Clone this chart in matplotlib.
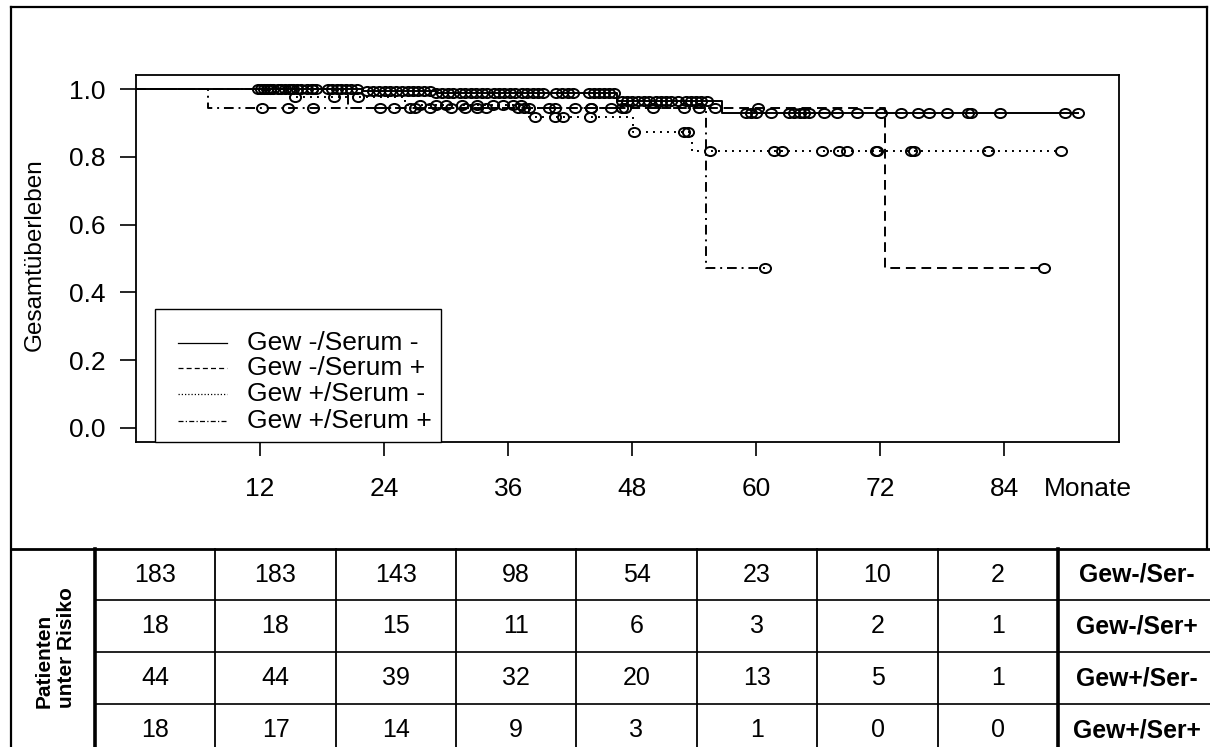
import numpy as np
import matplotlib
matplotlib.use("Agg")
import matplotlib.pyplot as plt
from matplotlib.path import Path
from matplotlib.patches import Rectangle

plt.rcParams['font.family'] = ['Liberation Sans', 'DejaVu Sans']

# ---- Kaplan-Meier curves: event times (months) and survival after each step ----
gm_sm_t = [0, 22.0, 29.0, 46.5, 56.7]
gm_sm_s = [1.0, 0.994, 0.988, 0.965, 0.929]
gm_sm_end = 91.1

gm_sp_t = [0, 20.5, 72.5]
gm_sp_s = [1.0, 0.944, 0.472]
gm_sp_end = 87.8

gp_sm_t = [0, 14.5, 26.0, 38.0, 48.1, 53.8]
gp_sm_s = [1.0, 0.977, 0.953, 0.917, 0.873, 0.817]
gp_sm_end = 89.5

gp_sp_t = [0, 7.0, 55.1]
gp_sp_s = [1.0, 0.944, 0.472]
gp_sp_end = 60.9

# ---- censoring times (months) ----
gm_sm_cens = [11.8, 12.1, 12.4, 12.7, 13.0, 13.3, 13.7, 14.0, 14.4, 14.8, 15.2, 15.6,
              16.0, 16.5, 17.0, 17.4, 18.6, 19.0, 19.4, 19.8, 20.3, 20.8, 21.4, 22.3,
              22.9, 23.5, 24.1, 24.6, 25.2, 25.7, 26.3, 26.8, 27.3, 27.9, 28.4, 29.0,
              29.6, 30.2, 30.7, 31.3, 31.8, 32.4, 32.9, 33.5, 34.0, 34.6, 35.1, 35.6,
              36.2, 36.7, 37.3, 37.8, 38.4, 38.9, 39.4, 40.6, 41.2, 41.8, 42.3, 43.8,
              44.3, 44.8, 45.3, 45.8, 46.2, 47.0, 47.5, 48.0, 48.6, 49.1, 49.6, 50.3,
              50.8, 51.3, 51.8, 52.4, 53.2, 53.7, 54.2, 54.7, 55.2, 59.0, 59.5, 60.0,
              61.4, 63.2, 63.7, 64.2, 64.6, 65.1, 66.6, 67.8, 69.8, 72.1, 74.0, 75.7,
              76.7, 78.5, 80.5, 80.8, 83.6, 89.9, 91.1]
gm_sp_cens = [15.0, 17.0, 25.0, 27.0, 30.5, 33.0, 37.0, 37.5, 40.5, 44.0, 47.0, 50.0,
              53.0, 56.0, 60.2, 87.8]
gp_sm_cens = [13.0, 15.4, 19.2, 21.5, 27.5, 29.0, 30.0, 31.5, 33.0, 34.5, 35.5, 36.5,
              37.2, 38.6, 40.5, 41.3, 43.9, 48.2, 53.0, 53.4, 55.5, 61.7, 62.5, 66.4,
              68.0, 68.8, 71.6, 71.7, 75.0, 75.3, 82.4, 89.5]
gp_sp_cens = [12.2, 14.7, 17.1, 23.6, 26.5, 28.4, 31.8, 33.9, 38.0, 40.0, 42.5, 44.0,
              46.0, 47.3, 54.5, 60.9]

legend_labels = ["Gew -/Serum -", "Gew -/Serum +", "Gew +/Serum -", "Gew +/Serum +"]

# ---- numbers at risk ----
risk_gm_sm = [183, 183, 143, 98, 54, 23, 10, 2]
risk_gm_sp = [18, 18, 15, 11, 6, 3, 2, 1]
risk_gp_sm = [44, 44, 39, 32, 20, 13, 5, 1]
risk_gp_sp = [18, 17, 14, 9, 3, 1, 0, 0]
risk_labels = ["Gew-/Ser-", "Gew-/Ser+", "Gew+/Ser-", "Gew+/Ser+"]

x_ticks = [12, 24, 36, 48, 60, 72, 84]
y_ticks = [0.0, 0.2, 0.4, 0.6, 0.8, 1.0]

W, H = 1210, 747
fig = plt.figure(figsize=(W / 100, H / 100), dpi=100)

# overlay in pixel coordinates for the frame and the risk table
ov = fig.add_axes([0, 0, 1, 1])
ov.set_xlim(0, W)
ov.set_ylim(H, 0)
ov.axis('off')
ov.patch.set_alpha(0)

# main survival axes
L, R, T, B = 136, 1119, 75, 442
ax = fig.add_axes([L / W, 1 - B / H, (R - L) / W, (B - T) / H])
ax.set_xlim(0, 95.1)
ax.set_ylim(-0.0413, 1.0413)

styles = ['-', (0, (5, 3)), (0, (1, 2.6)), (0, (5, 2.5, 1, 2.5))]
curves = [
    (gm_sm_t, gm_sm_s, gm_sm_end, gm_sm_cens),
    (gm_sp_t, gm_sp_s, gm_sp_end, gm_sp_cens),
    (gp_sm_t, gp_sm_s, gp_sm_end, gp_sm_cens),
    (gp_sp_t, gp_sp_s, gp_sp_end, gp_sp_cens),
]

circ = Path.unit_circle()
ell = Path(circ.vertices * np.array([1.0, 0.82]), circ.codes)

for (t, s, end, cens), ls in zip(curves, styles):
    xs = list(t) + [end]
    ys = list(s) + [s[-1]]
    ax.plot(xs, ys, drawstyle='steps-post', color='black', lw=1.4, linestyle=ls)
    idx = np.searchsorted(t, cens, side='right') - 1
    cy = np.asarray(s)[idx]
    ax.plot(cens, cy, linestyle='none', marker=ell, ms=8.0, mfc='none',
            mec='black', mew=1.4)

for sp in ax.spines.values():
    sp.set_linewidth(1.3)
ax.set_xticks(x_ticks)
ax.set_xticklabels([str(v) for v in x_ticks])
ax.set_yticks(y_ticks)
ax.set_yticklabels([f"{v:.1f}" for v in y_ticks])
ax.tick_params(axis='x', length=10, width=1.2, pad=15.5, labelsize=19)
ax.tick_params(axis='y', length=11.5, width=1.2, pad=10.5, labelsize=19)

# legend box resting on the bottom of the axes
lx0 = (155 - L) / (R - L)
lx1 = (441 - L) / (R - L)
ly1 = (B - 309) / (B - T)
ax.add_patch(Rectangle((lx0, 0), lx1 - lx0, ly1, transform=ax.transAxes,
                       facecolor='white', edgecolor='black', lw=1.0, zorder=5,
                       clip_on=False))
leg_styles = ['-', (0, (4, 2.5)), (0, (1, 1.6)), (0, (4, 1.8, 1, 1.8))]
row_px = [343, 368, 394, 421]
for lab, ls, ypx in zip(legend_labels, leg_styles, row_px):
    ya = (B - ypx) / (B - T)
    ax.plot([(178 - L) / (R - L), (227 - L) / (R - L)], [ya, ya],
            transform=ax.transAxes, color='black', lw=0.9, linestyle=ls,
            zorder=6, clip_on=False)
    ax.text((247 - L) / (R - L), ya, lab, transform=ax.transAxes, fontsize=19,
            va='center', ha='left', zorder=6)

# axis titles
ov.text(1088, 489, "Monate", fontsize=19, ha='center', va='center')
ov.text(35, 255, "Gesamtüberleben", fontsize=17.5, rotation=90,
        ha='center', va='center')

# outer frame
ov.plot([11, 11], [7, H], color='black', lw=1.6)
ov.plot([11, 1207], [7, 7], color='black', lw=1.6)
ov.plot([1207, 1207], [7, 549], color='black', lw=1.6)

# risk table grid
col_edges = [95, 215, 336, 456, 576, 697, 817, 938, 1058]
row_edges = [549, 600, 652, 704, 756]
ov.plot([11, W], [549, 549], color='black', lw=2.0)
for yy in row_edges[1:-1]:
    ov.plot([95, W], [yy, yy], color='#222222', lw=1.4)
for i, xx in enumerate(col_edges):
    thick = i in (0, len(col_edges) - 1)
    ov.plot([xx, xx], [549, H], color='black', lw=2.6 if thick else 1.3)

rows = [risk_gm_sm, risk_gm_sp, risk_gp_sm, risk_gp_sp]
for r, (vals, lab) in enumerate(zip(rows, risk_labels)):
    yc = (row_edges[r] + row_edges[r + 1]) / 2
    for c, v in enumerate(vals):
        xc = (col_edges[c] + col_edges[c + 1]) / 2
        ov.text(xc, yc, str(v), fontsize=18, ha='center', va='center')
    ov.text(1137, yc, lab, fontsize=17.8, fontweight='bold', ha='center', va='center')

ov.text(55, 648, "Patienten\nunter Risiko", fontsize=15, fontweight='bold',
        rotation=90, ha='center', va='center', multialignment='left')

fig.savefig("out.png", dpi=100)
